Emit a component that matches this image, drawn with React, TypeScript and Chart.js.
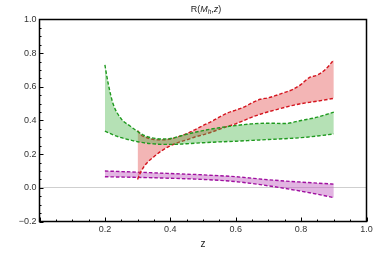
import React, { useEffect, useRef } from "react";
import { Chart, registerables } from "chart.js";

Chart.register(...registerables);

// ---- data ----
const zGreen = [0.2, 0.21, 0.225, 0.25, 0.275, 0.3, 0.325, 0.35, 0.375, 0.4, 0.45, 0.5, 0.55, 0.6, 0.65, 0.7, 0.75, 0.8, 0.85, 0.9];
const greenUpper = [0.73, 0.62, 0.5, 0.41, 0.37, 0.335, 0.307, 0.295, 0.29, 0.293, 0.318, 0.34, 0.357, 0.37, 0.38, 0.384, 0.382, 0.4, 0.42, 0.45];
const greenLower = [0.337, 0.328, 0.315, 0.298, 0.285, 0.274, 0.266, 0.261, 0.258, 0.258, 0.262, 0.268, 0.273, 0.277, 0.282, 0.287, 0.292, 0.298, 0.308, 0.32];

const zRed = [0.3, 0.31, 0.325, 0.35, 0.375, 0.4, 0.425, 0.45, 0.475, 0.5, 0.525, 0.55, 0.575, 0.6, 0.625, 0.65, 0.675, 0.7, 0.725, 0.75, 0.775, 0.8, 0.825, 0.85, 0.875, 0.9];
const redUpper = [0.34, 0.315, 0.3, 0.287, 0.285, 0.29, 0.304, 0.322, 0.345, 0.37, 0.393, 0.42, 0.445, 0.462, 0.48, 0.505, 0.526, 0.535, 0.55, 0.567, 0.585, 0.615, 0.655, 0.67, 0.705, 0.76];
const redLower = [0.05, 0.095, 0.14, 0.185, 0.222, 0.25, 0.27, 0.285, 0.302, 0.315, 0.33, 0.348, 0.365, 0.38, 0.4, 0.42, 0.437, 0.452, 0.465, 0.478, 0.49, 0.5, 0.508, 0.515, 0.523, 0.532];

const zMagenta = [0.2, 0.3, 0.4, 0.5, 0.6, 0.7, 0.8, 0.85, 0.9];
const magentaUpper = [0.1, 0.093, 0.085, 0.077, 0.066, 0.048, 0.034, 0.028, 0.022];
const magentaLower = [0.066, 0.062, 0.057, 0.05, 0.037, 0.012, -0.02, -0.038, -0.058];

const xTickValues = [0, 0.2, 0.4, 0.6, 0.8, 1.0];
const yTickValues = [-0.2, 0, 0.2, 0.4, 0.6, 0.8, 1.0];

const FONT = "'Liberation Sans', Arial, sans-serif";

function pts(xs: number[], ys: number[]) {
  return xs.map((x, i) => ({ x, y: ys[i] }));
}

function line(label: string, data: any, color: string, fill: any, bg: string) {
  return {
    label,
    data,
    borderColor: color,
    backgroundColor: bg,
    borderWidth: 1.4,
    borderDash: [3.5, 2],
    pointRadius: 0,
    cubicInterpolationMode: "monotone" as const,
    fill,
  };
}

const framePlugin = {
  id: "frame",
  afterDraw(chart: any) {
    const { ctx, chartArea: a, scales } = chart;
    const xs = scales.x;
    const ys = scales.y;
    ctx.save();
    ctx.strokeStyle = "#000";
    ctx.lineWidth = 1.5;
    ctx.strokeRect(a.left, a.top, a.right - a.left, a.bottom - a.top);
    // ticks, inward
    ctx.lineWidth = 1;
    ctx.strokeStyle = "#000";
    ctx.beginPath();
    for (let i = 0; i <= 20; i++) {
      const v = i * 0.05;
      const major = i % 4 === 0;
      const px = Math.round(xs.getPixelForValue(v)) + 0.5;
      const len = major ? 4 : 2;
      ctx.moveTo(px, a.bottom);
      ctx.lineTo(px, a.bottom - len);
    }
    for (let i = 0; i <= 24; i++) {
      const v = -0.2 + i * 0.05;
      const major = i % 4 === 0;
      const py = Math.round(ys.getPixelForValue(v)) + 0.5;
      const len = major ? 4 : 2;
      ctx.moveTo(a.left, py);
      ctx.lineTo(a.left + len, py);
    }
    ctx.stroke();

    // title R(M_h,z)
    ctx.fillStyle = "#222";
    ctx.textBaseline = "alphabetic";
    const parts = [
      { t: "R(", f: `9px ${FONT}`, dy: 0 },
      { t: "M", f: `italic 9px ${FONT}`, dy: 0 },
      { t: "h", f: `italic 6.5px ${FONT}`, dy: 2 },
      { t: ",", f: `9px ${FONT}`, dy: 0 },
      { t: "z", f: `italic 9px ${FONT}`, dy: 0 },
      { t: ")", f: `9px ${FONT}`, dy: 0 },
    ];
    let w = 0;
    for (const p of parts) {
      ctx.font = p.f;
      w += ctx.measureText(p.t).width;
    }
    let x = (a.left + a.right) / 2 + 3 - w / 2;
    const base = 12;
    for (const p of parts) {
      ctx.font = p.f;
      ctx.fillText(p.t, x, base + p.dy);
      x += ctx.measureText(p.t).width;
    }
    // x axis label
    ctx.font = `10px ${FONT}`;
    ctx.textAlign = "center";
    ctx.fillStyle = "#222";
    ctx.fillText("z", (a.left + a.right) / 2, 247);
    ctx.restore();
  },
};

export default function App() {
  const ref = useRef<HTMLCanvasElement | null>(null);
  useEffect(() => {
    document.body.style.margin = "0";
    if (!ref.current) return;
    const fmt = (v: number) => {
      const s = Math.abs(v) < 1e-9 ? "0.0" : v.toFixed(1);
      return s.replace("-", "\u2212");
    };
    const chart = new Chart(ref.current, {
      type: "line",
      data: {
        datasets: [
          line("green lower", pts(zGreen, greenLower), "#1f9a1f", false, "rgba(0,0,0,0)"),
          line("green upper", pts(zGreen, greenUpper), "#1f9a1f", "-1", "rgba(70,180,70,0.4)"),
          line("red lower", pts(zRed, redLower), "#d4141e", false, "rgba(0,0,0,0)"),
          line("red upper", pts(zRed, redUpper), "#d4141e", "-1", "rgba(225,70,70,0.4)"),
          line("magenta lower", pts(zMagenta, magentaLower), "#a010a0", false, "rgba(0,0,0,0)"),
          line("magenta upper", pts(zMagenta, magentaUpper), "#a010a0", "-1", "rgba(190,90,190,0.45)"),
        ] as any,
      },
      options: {
        animation: false,
        responsive: false,
        maintainAspectRatio: false,
        layout: { padding: { left: 0, right: 15.5, top: 19.5, bottom: 0 } },
        plugins: {
          legend: { display: false },
          title: { display: false },
          tooltip: { enabled: false },
        },
        scales: {
          x: {
            type: "linear",
            min: 0,
            max: 1,
            afterFit: (s: any) => {
              s.height = 32.5;
            },
            afterBuildTicks: (s: any) => {
              s.ticks = xTickValues.map((v) => ({ value: v }));
            },
            border: { display: false },
            grid: { display: false, drawTicks: false },
            ticks: {
              padding: 3,
              maxRotation: 0,
              autoSkip: false,
              color: "#333",
              font: { family: FONT, size: 9 },
              callback: (v: any) => (Math.abs(v) < 1e-9 ? "" : fmt(Number(v))),
            },
          },
          y: {
            type: "linear",
            min: -0.2,
            max: 1.0,
            afterFit: (s: any) => {
              s.width = 39.5;
            },
            afterBuildTicks: (s: any) => {
              s.ticks = yTickValues.map((v) => ({ value: v }));
            },
            border: { display: false },
            grid: {
              drawTicks: false,
              color: (c: any) => (c.tick && Math.abs(c.tick.value) < 1e-9 ? "#cfcfcf" : "rgba(0,0,0,0)"),
              lineWidth: 1,
            },
            ticks: {
              padding: 3,
              autoSkip: false,
              color: "#333",
              font: { family: FONT, size: 9 },
              callback: (v: any) => fmt(Number(v)),
            },
          },
        },
      },
      plugins: [framePlugin],
    });
    return () => chart.destroy();
  }, []);
  return (
    <div style={{ width: 382, height: 254 }}>
      <canvas ref={ref} width={382} height={254} style={{ display: "block", width: 382, height: 254 }} />
    </div>
  );
}
